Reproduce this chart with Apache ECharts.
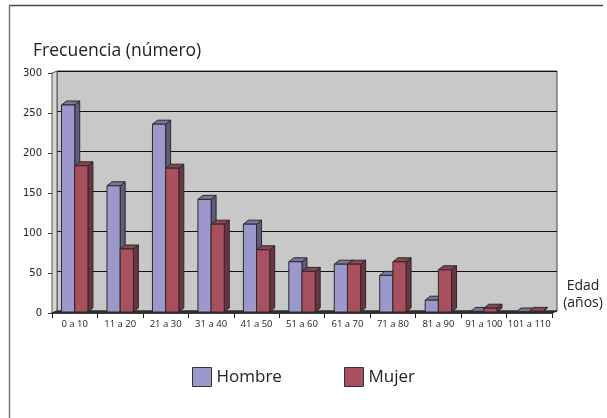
<!DOCTYPE html>
<html><head><meta charset="utf-8">
<script src="https://cdn.jsdelivr.net/npm/echarts@6/dist/echarts.min.js"></script>
<style>html,body{margin:0;padding:0;background:#fff}#c{width:607px;height:418px}</style>
</head><body><div id="c"></div>
<script>
const categories = ['0 a 10','11 a 20','21 a 30','31 a 40','41 a 50','51 a 60','61 a 70','71 a 80','81 a 90','91 a 100','101 a 110'];
const hombre = [260, 159, 236, 142, 111, 64, 61, 47, 16, 2, 0.5];
const mujer  = [184, 80, 181, 111, 79, 52, 61, 64, 54, 6, 2];
const yTicks = [0, 50, 100, 150, 200, 250, 300];
const seriesNames = ['Hombre', 'Mujer'];

const colors = [
  {front:'#9d98cc', side:'#615a7c', top:'#7c769f'},
  {front:'#a8505e', side:'#6b3440', top:'#8c4451'}
];
const DX = 5, DY = -4;
const FONT = "'Open Sans', sans-serif";

function makeRender(idx){
  return function(params, api){
    const c = api.value(0), v = api.value(1);
    const base = api.coord([c, 0]);
    const topP = api.coord([c, v]);
    const band = api.size([1, 0])[0];
    const w = band * 0.29;
    const left = idx === 0 ? base[0] - w : base[0];
    const right = left + w;
    const y0 = base[1] - 1, y1 = Math.min(topP[1], y0);
    const col = colors[idx];
    const st = {stroke:'#2a2a2a', lineWidth:1};
    return {type:'group', children:[
      {type:'polygon', shape:{points:[[right,y1],[right+DX,y1+DY],[right+DX,y0+DY],[right,y0]]}, style:Object.assign({fill:col.side}, st)},
      {type:'polygon', shape:{points:[[left,y1],[left+DX,y1+DY],[right+DX,y1+DY],[right,y1]]}, style:Object.assign({fill:col.top}, st)},
      {type:'rect', shape:{x:left, y:y1, width:w, height:y0-y1}, style:Object.assign({fill:col.front}, st)}
    ]};
  };
}

const chart = echarts.init(document.getElementById('c'), null, {renderer:'canvas'});
chart.setOption({
  animation:false,
  title:{text:'Frecuencia (número)', left:33, top:42, padding:0, textStyle:{fontFamily:FONT, fontSize:17.5, fontWeight:'normal', color:'#222'}},
  grid:[
    {left:52, top:73, width:500, height:240, show:false, containLabel:false},
    {left:57, top:71, width:500, height:240, show:true, backgroundColor:'#c8c8c8', borderColor:'#444', borderWidth:1, z:0}
  ],
  xAxis:[
    {type:'category', gridIndex:0, data:categories,
     axisLine:{show:true, lineStyle:{color:'#222', width:1.5}},
     axisTick:{show:true, length:5, lineStyle:{color:'#222'}},
     axisLabel:{fontFamily:FONT, fontSize:9.5, color:'#222', margin:6, interval:0}},
    {type:'category', gridIndex:1, data:categories, show:false}
  ],
  yAxis:[
    {type:'value', gridIndex:0, min:yTicks[0], max:yTicks[yTicks.length-1], interval:50,
     axisLine:{show:true, lineStyle:{color:'#333'}},
     axisTick:{show:true, length:4, lineStyle:{color:'#333'}},
     splitLine:{show:false},
     axisLabel:{fontFamily:"'DejaVu Sans', sans-serif", fontSize:10, color:'#222', margin:10}},
    {type:'value', gridIndex:1, min:0, max:300, interval:50,
     axisLine:{show:false}, axisTick:{show:false}, axisLabel:{show:false},
     splitLine:{show:true, lineStyle:{color:'#111', width:1}}}
  ],
  legend:[
    {data:[{name:'Hombre', icon:'rect'}], left:192, top:367, padding:0, itemWidth:19, itemHeight:19, itemGap:10,
     itemStyle:{borderColor:'#333', borderWidth:1}, textStyle:{fontFamily:FONT, fontSize:17, color:'#222'}},
    {data:[{name:'Mujer', icon:'rect'}], left:344, top:367, padding:0, itemWidth:19, itemHeight:19,
     itemStyle:{borderColor:'#333', borderWidth:1}, textStyle:{fontFamily:FONT, fontSize:17, color:'#222'}}
  ],
  graphic:[
    {type:'line', shape:{x1:9, y1:5.5, x2:603, y2:5.5}, style:{stroke:'#444', lineWidth:1.5}, z:1},
    {type:'line', shape:{x1:9.5, y1:5, x2:9.5, y2:418}, style:{stroke:'#777', lineWidth:1.5}, z:1},
    {type:'polygon', shape:{points:[[52,73],[57,71],[57,311],[52,313]]}, style:{fill:'#d6d6d6', stroke:'#555', lineWidth:1}, z:1},
    {type:'polygon', shape:{points:[[52,313],[57,311],[557,311],[552,313]]}, style:{fill:'#3a3a3a', stroke:'#222', lineWidth:1}, z:1},
    {type:'text', x:583, y:278, style:{text:'Edad\n(años)', fontFamily:FONT, fontSize:14, lineHeight:17, fill:'#222', textAlign:'center', textVerticalAlign:'top'}, z:5}
  ],
  series:[
    {name:seriesNames[0], type:'custom', xAxisIndex:0, yAxisIndex:0, itemStyle:{color:colors[0].front, borderColor:'#333'},
     renderItem:makeRender(0), data:hombre.map((v,i)=>[i,v]), z:3},
    {name:seriesNames[1], type:'custom', xAxisIndex:0, yAxisIndex:0, itemStyle:{color:colors[1].front, borderColor:'#333'},
     renderItem:makeRender(1), data:mujer.map((v,i)=>[i,v]), z:3}
  ]
});
</script></body></html>
